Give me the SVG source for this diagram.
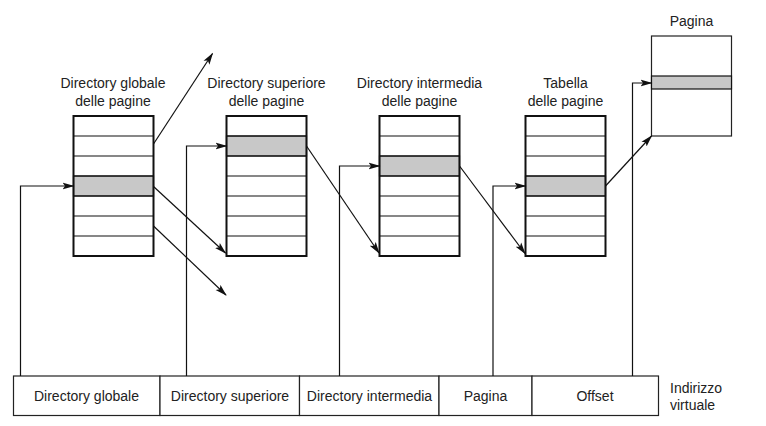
<svg xmlns="http://www.w3.org/2000/svg" width="766" height="426" viewBox="0 0 766 426">
<style>
text{font-family:"Liberation Sans",Arial,sans-serif;font-size:14px;fill:#222;text-anchor:middle}
.tb{fill:#fff;stroke:#111;stroke-width:2}
.row{stroke:#111;stroke-width:1.2}
.sh{fill:#c8c8c8;stroke:#111;stroke-width:1.2}
.cell{fill:#fff;stroke:#222;stroke-width:1.2}
.c{fill:none;stroke:#111;stroke-width:1.2;marker-end:url(#ah)}
</style>
<defs>
<marker id="ah" viewBox="0 0 12 8" refX="11" refY="4" markerWidth="12" markerHeight="8" markerUnits="userSpaceOnUse" orient="auto">
<path d="M0,0.5 L12,4 L0,7.5 L2.5,4 z" fill="#111"/>
</marker>
</defs>
<rect width="766" height="426" fill="#fff"/>

<g id="t1">
<text x="113" y="88">Directory globale</text>
<text x="113" y="106">delle pagine</text>
<rect class="sh" x="73.5" y="176" width="80" height="20"/>
<path class="row" d="M73.5,136H153.5M73.5,156H153.5M73.5,176H153.5M73.5,196H153.5M73.5,216H153.5M73.5,236H153.5"/>
<rect class="tb" x="73.5" y="116" width="80" height="140" fill="none" style="fill:none"/>
</g>

<g id="t2">
<text x="266.5" y="88">Directory superiore</text>
<text x="266.5" y="106">delle pagine</text>
<rect class="sh" x="226.5" y="136" width="80" height="20"/>
<path class="row" d="M226.5,136H306.5M226.5,156H306.5M226.5,176H306.5M226.5,196H306.5M226.5,216H306.5M226.5,236H306.5"/>
<rect class="tb" x="226.5" y="116" width="80" height="140" style="fill:none"/>
</g>

<g id="t3">
<text x="419.5" y="88">Directory intermedia</text>
<text x="419.5" y="106">delle pagine</text>
<rect class="sh" x="379.5" y="156" width="80" height="20"/>
<path class="row" d="M379.5,136H459.5M379.5,156H459.5M379.5,176H459.5M379.5,196H459.5M379.5,216H459.5M379.5,236H459.5"/>
<rect class="tb" x="379.5" y="116" width="80" height="140" style="fill:none"/>
</g>

<g id="t4">
<text x="565.5" y="88">Tabella</text>
<text x="565.5" y="106">delle pagine</text>
<rect class="sh" x="525.5" y="176" width="80" height="20"/>
<path class="row" d="M525.5,136H605.5M525.5,156H605.5M525.5,176H605.5M525.5,196H605.5M525.5,216H605.5M525.5,236H605.5"/>
<rect class="tb" x="525.5" y="116" width="80" height="140" style="fill:none"/>
</g>

<g id="page">
<text x="691.5" y="26">Pagina</text>
<rect class="cell" x="651.5" y="36" width="80" height="100"/>
<rect class="sh" x="651.5" y="76" width="80" height="13"/>
</g>

<g id="addr">
<rect class="cell" x="13.5" y="376" width="146.5" height="39.5"/>
<rect class="cell" x="160" y="376" width="139.5" height="39.5"/>
<rect class="cell" x="299.5" y="376" width="139.5" height="39.5"/>
<rect class="cell" x="439" y="376" width="93" height="39.5"/>
<rect class="cell" x="532" y="376" width="126.5" height="39.5"/>
<text x="86.5" y="401">Directory globale</text>
<text x="230" y="401">Directory superiore</text>
<text x="369.5" y="401">Directory intermedia</text>
<text x="485.5" y="401">Pagina</text>
<text x="595" y="401">Offset</text>
<text x="670" y="393" style="text-anchor:start">Indirizzo</text>
<text x="670" y="410" style="text-anchor:start">virtuale</text>
</g>

<g id="connectors">
<path class="c" d="M20.5,376V186H73.5"/>
<path class="c" d="M186.5,376V146H226.5"/>
<path class="c" d="M339.5,376V166H379.5"/>
<path class="c" d="M493,376V186H525.5"/>
<path class="c" d="M632.5,376V83H651.5"/>
<path class="c" d="M153.5,144L212.5,53.5"/>
<path class="c" d="M153.5,186.5L225.5,253"/>
<path class="c" d="M153.5,226L226,295"/>
<path class="c" d="M306.5,146L379,253"/>
<path class="c" d="M459.5,166L525,253.5"/>
<path class="c" d="M605.5,186L651.5,136"/>
</g>
</svg>
